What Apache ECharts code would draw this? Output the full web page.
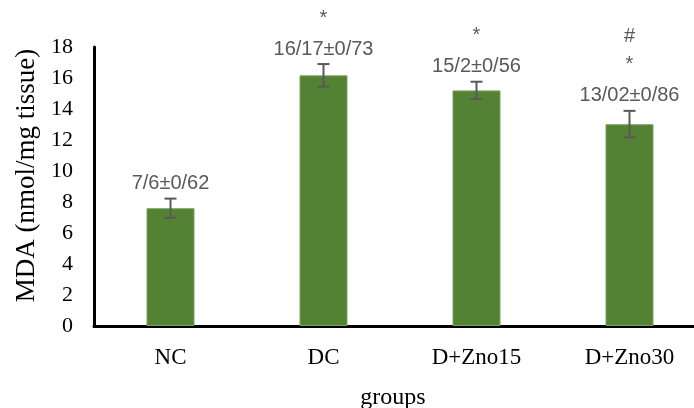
<!DOCTYPE html>
<html>
<head>
<meta charset="utf-8">
<script src="https://cdn.jsdelivr.net/npm/echarts@6/dist/echarts.min.js"></script>
<style>html,body{margin:0;padding:0;background:#fff}#c{width:694px;height:408px}</style>
</head>
<body>
<div id="c"></div>
<script>
const categories = ['NC', 'DC', 'D+Zno15', 'D+Zno30'];
const means = [7.6, 16.17, 15.2, 13.02];
const sds = [0.62, 0.73, 0.56, 0.86];
const valueLabels = ['7/6±0/62', '16/17±0/73', '15/2±0/56', '13/02±0/86'];
const marks = [[], ['*'], ['*'], ['*', '#']];
const yTicks = { min: 0, max: 18, interval: 2 };

const chart = echarts.init(document.getElementById('c'), null, { renderer: 'canvas' });
const serif = '"Liberation Serif", "Times New Roman", serif';
const sans = '"Liberation Sans", Arial, sans-serif';
const grey = '#595959';

const errData = categories.map((c, i) => [i, means[i], sds[i]]);

chart.setOption({
  animation: false,
  backgroundColor: '#fff',
  grid: { left: 94, width: 612, top: 47, bottom: 82, containLabel: false, outerBoundsMode: 'none' },
  xAxis: {
    type: 'category', data: categories,
    axisLine: { show: true, lineStyle: { color: '#000', width: 3 } },
    axisTick: { show: false },
    axisLabel: { color: '#000', fontFamily: serif, fontSize: 23, margin: 20 },
    name: 'groups', nameLocation: 'middle', nameGap: 60,
    nameTextStyle: { color: '#000', fontFamily: serif, fontSize: 24, padding: [0, 14, 0, 0] }
  },
  yAxis: {
    type: 'value', min: yTicks.min, max: yTicks.max, interval: yTicks.interval,
    axisLine: { show: true, lineStyle: { color: '#000', width: 3 } },
    axisTick: { show: false }, splitLine: { show: false },
    axisLabel: { color: '#000', fontFamily: serif, fontSize: 22, margin: 21 },
    name: 'MDA (nmol/mg tissue)', nameLocation: 'middle', nameGap: 54, nameRotate: 90,
    nameTextStyle: { color: '#000', fontFamily: serif, fontSize: 27, padding: [0, 0, 0, 22] }
  },
  series: [
    {
      type: 'bar', data: means, barWidth: 48,
      itemStyle: { color: '#548235', borderColor: '#7ba35e', borderWidth: 1 }
    },
    {
      type: 'custom', clip: false, z: 5,
      data: errData,
      renderItem: function (params, api) {
        const i = api.value(0), m = api.value(1), s = api.value(2);
        const top = api.coord([i, m + s]);
        const bot = api.coord([i, m - s]);
        const cw = 6;
        const ls = { stroke: grey, lineWidth: 2 };
        const ly = top[1] - 15;
        const children = [
          { type: 'line', shape: { x1: top[0], y1: top[1], x2: bot[0], y2: bot[1] }, style: ls },
          { type: 'line', shape: { x1: top[0] - cw, y1: top[1], x2: top[0] + cw, y2: top[1] }, style: ls },
          { type: 'line', shape: { x1: bot[0] - cw, y1: bot[1], x2: bot[0] + cw, y2: bot[1] }, style: ls },
          { type: 'text', style: { text: valueLabels[i], x: top[0], y: ly, align: 'center', verticalAlign: 'middle', fill: grey, fontSize: 20, fontFamily: sans } }
        ];
        marks[i].forEach(function (t, k) {
          const dy = 34 + 25 * k;
          children.push({ type: 'text', style: { text: t, x: top[0], y: ly - dy + (k === 0 ? 3 : 0), align: 'center', verticalAlign: 'middle', fill: grey, fontSize: 20, fontFamily: sans } });
        });
        return { type: 'group', children: children };
      }
    }
  ]
});
</script>
</body>
</html>
